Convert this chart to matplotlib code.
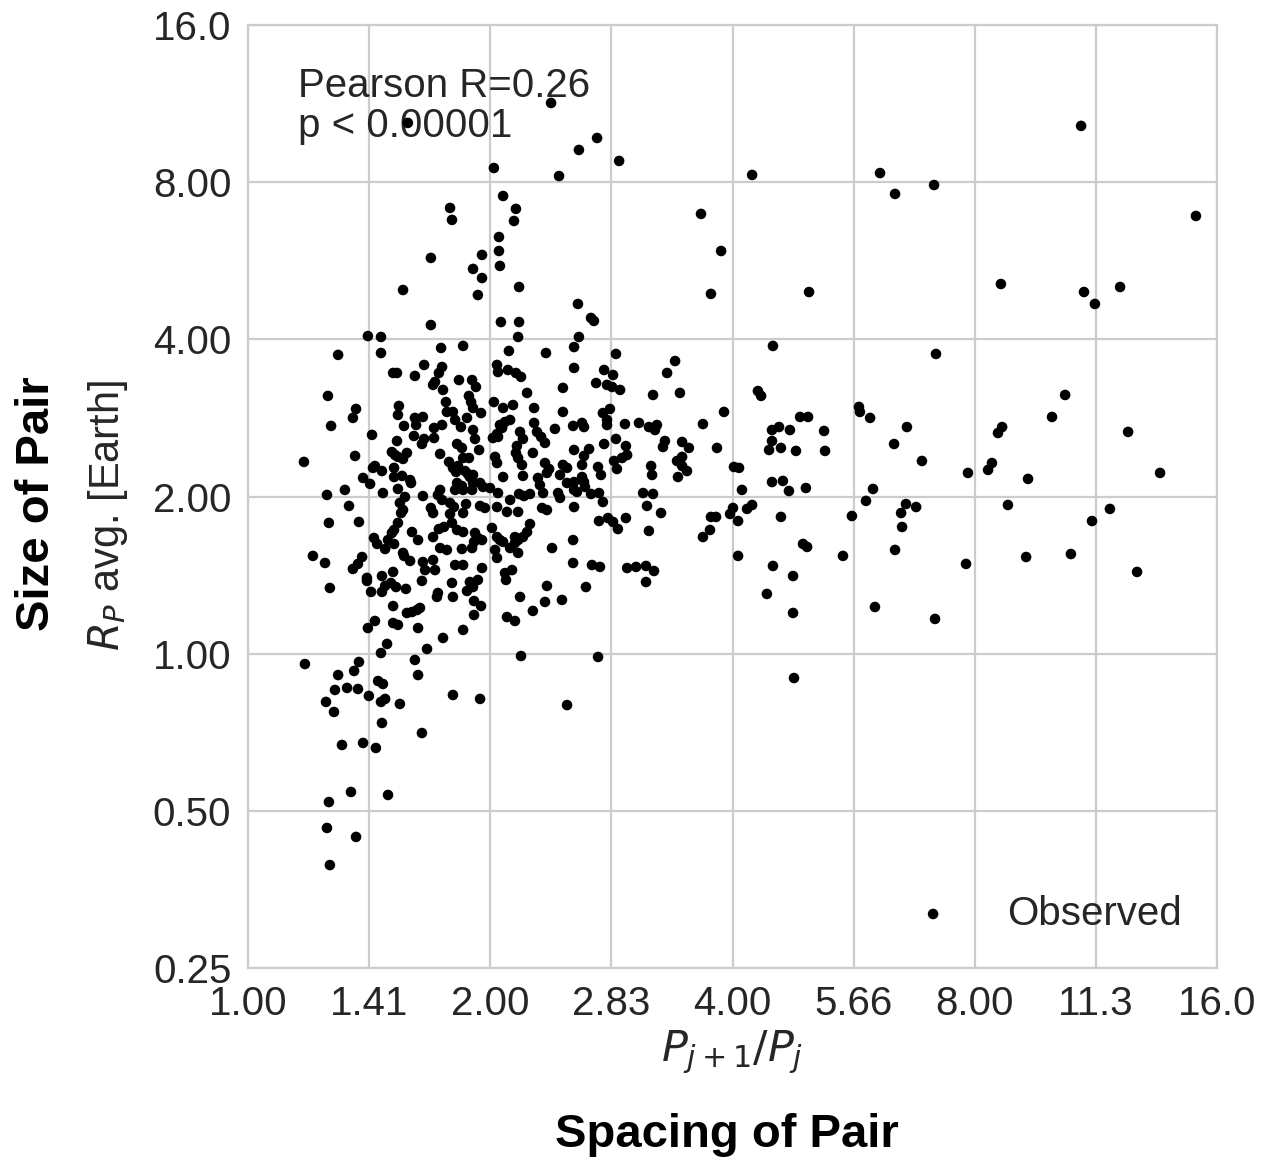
import numpy as np
import matplotlib
matplotlib.use("Agg")
import matplotlib.pyplot as plt
from matplotlib.ticker import FixedLocator, FixedFormatter, NullLocator

# ---- data: log2 of period ratio P_{j+1}/P_j and log2 of mean radius (Earth radii) ----
lr_a = [0.660, 0.640, 0.755, 0.755, 0.495, 0.549, 1.251, 1.015, 1.284, 1.053,
        0.834, 1.106, 0.842, 1.098, 1.036, 0.966, 1.036, 0.929, 1.040, 0.966,
        1.119, 0.949, 1.044, 1.119, 1.115, 1.366, 1.441, 1.532, 1.362, 1.416,
        1.428, 1.366]
lrad_a = [3.377, 2.314, 2.518, 2.091, 2.021, 2.015, 3.504, 3.090, 3.039, 2.912,
          2.836, 2.830, 2.760, 2.753, 2.651, 2.537, 2.562, 2.448, 2.467, 2.390,
          2.333, 2.282, 2.110, 2.110, 2.015, 3.205, 3.281, 3.135, 2.225, 2.136,
          2.117, 2.015]

lr_b = [2.081, 2.609, 2.671, 2.832, 1.870, 1.953, 1.911, 2.316, 2.167, 2.840,
        2.105, 2.118, 1.965, 2.522, 2.526, 2.568, 1.878, 2.279, 2.312, 2.163,
        2.192, 2.237, 2.378, 2.720, 1.936, 2.163, 2.151, 2.200, 2.262, 2.382,
        2.667, 2.782, 2.006, 2.027, 2.163, 2.208, 2.039, 2.233, 2.303, 2.580,
        2.551, 2.716, 2.758, 2.696, 2.700, 2.002, 1.990, 2.060, 2.081, 1.911,
        1.932, 1.907, 1.878, 2.023, 2.200, 2.493, 2.291, 2.308, 2.023, 2.456,
        2.671, 2.167, 2.250, 2.142, 2.588, 2.836, 2.250, 2.254]
lrad_b = [3.046, 3.058, 2.925, 2.982, 2.798, 2.562, 2.289, 2.301, 1.958, 1.907,
          1.671, 1.640, 1.538, 1.570, 1.538, 1.500, 1.461, 1.506, 1.506, 1.423,
          1.442, 1.423, 1.417, 1.442, 1.309, 1.353, 1.296, 1.309, 1.290, 1.290,
          1.334, 1.226, 1.188, 1.182, 1.092, 1.099, 1.042, 1.035, 1.054, 1.048,
          0.972, 0.952, 0.933, 0.895, 0.806, 0.927, 0.889, 0.921, 0.946, 0.870,
          0.870, 0.787, 0.742, 0.844, 0.870, 0.876, 0.698, 0.679, 0.622, 0.622,
          0.660, 0.558, 0.494, 0.380, 0.297, 0.221, 0.259, -0.155]

lr_c = [3.439, 3.913, 3.108, 3.451, 3.496, 3.600, 3.373, 3.319, 3.113, 3.096,
        3.633, 3.071, 3.055, 2.972, 3.220, 3.765, 3.137, 3.558, 3.484, 2.964,
        3.212, 3.397, 3.670]
lrad_c = [3.358, 2.785, 2.352, 2.301, 2.225, 2.333, 1.646, 1.506, 1.442, 1.404,
          1.411, 1.213, 1.169, 1.150, 1.112, 1.150, 0.946, 0.921, 0.844, 0.571,
          0.615, 0.634, 0.520]

lr_d = [1.346, 1.519, 1.346, 1.763, 1.730, 1.470, 1.507, 1.437, 1.482, 1.503,
        1.536, 1.672, 1.783, 1.494, 1.465, 1.482, 1.482, 1.342, 1.379, 1.387,
        1.556, 1.614, 1.655, 1.680, 1.688, 1.519, 1.470, 1.560, 1.721, 1.713,
        1.792, 1.820, 1.346, 1.408, 1.387, 1.565, 1.544, 1.511, 1.523, 1.771,
        1.792, 1.792, 1.812, 1.775, 1.664, 1.668, 1.445, 1.457, 1.379, 1.379,
        1.387, 1.391, 1.346, 1.346, 1.358, 1.416, 1.449, 1.465, 1.631, 1.672,
        1.346, 1.647, 1.705, 1.560, 1.449, 1.486, 1.507, 1.527, 1.655, 1.342,
        1.342, 1.420, 1.453, 1.565, 1.602, 1.643, 1.676,
        1.395, 1.643, 1.445, 1.317]
lrad_d = [1.951, 1.907, 1.818, 1.862, 1.786, 1.805, 1.773, 1.722, 1.710, 1.697,
          1.678, 1.646, 1.659, 1.557, 1.531, 1.487, 1.455, 1.449, 1.468, 1.442,
          1.461, 1.468, 1.442, 1.423, 1.455, 1.366, 1.334, 1.321, 1.353, 1.315,
          1.347, 1.309, 1.296, 1.302, 1.258, 1.264, 1.245, 1.226, 1.175, 1.226,
          1.252, 1.194, 1.162, 1.124, 1.194, 1.137, 1.188, 1.137, 1.201, 1.124,
          1.092, 1.061, 1.092, 1.042, 1.029, 1.016, 1.022, 0.965, 1.022, 1.016,
          0.933, 0.940, 0.895, 0.863, 0.844, 0.863, 0.838, 0.793, 0.781, 0.723,
          0.577, 0.564, 0.552, 0.545, 0.552, 0.558, 0.526,
          0.424, 0.456, -0.021, -0.327]

lr_f = [0.842, 0.916, 0.949, 0.784, 0.780, 0.846, 0.904, 0.929, 0.933, 0.962,
        0.933, 0.888, 0.805, 0.739, 1.065, 1.123, 1.234, 1.226, 1.296, 1.176,
        1.069, 1.102, 1.127, 0.846, 0.958]
lrad_f = [0.450, 0.456, 0.469, 0.386, 0.361, 0.361, 0.399, 0.424, 0.335, 0.303,
          0.246, 0.151, 0.100, 0.030, 0.469, 0.361, 0.431, 0.329, 0.342, 0.272,
          0.233, 0.208, -0.015, -0.263, -0.288]

lr_g = [0.338, 0.491, 0.508, 0.553, 0.566, 0.590, 0.611, 0.652, 0.718, 0.599,
        0.656, 0.677, 0.698, 0.710, 0.524, 0.495, 0.599, 0.619, 0.702, 0.574,
        0.549, 0.235, 0.458, 0.689, 0.438, 0.372, 0.702, 0.537, 0.557, 0.359,
        0.409, 0.454, 0.499, 0.322, 0.549, 0.566, 0.627, 0.355, 0.553, 0.718,
        0.388, 0.475, 0.528, 0.425, 0.334, 0.578, 0.326, 0.446, 0.338]
lrad_g = [0.418, 0.463, 0.393, 0.393, 0.431, 0.450, 0.424, 0.412, 0.463, 0.303,
          0.259, 0.265, 0.278, 0.291, 0.208, 0.163, 0.195, 0.183, 0.163, 0.062,
          0.004, -0.066, -0.053, -0.040, -0.110, -0.136, -0.136, -0.174, -0.193, -0.231,
          -0.218, -0.225, -0.269, -0.307, -0.307, -0.288, -0.320, -0.371, -0.441, -0.505,
          -0.581, -0.568, -0.600, -0.880, -0.944, -0.899, -1.109, -1.166, -1.345]

lr_h = [0.372, 0.549, 0.727, 0.599, 0.615, 0.689, 0.330, 0.446, 0.433, 0.623,
        0.619, 0.689, 0.694, 0.722, 0.644, 0.343, 0.512, 0.685, 0.727, 0.718,
        0.615, 0.594, 0.607, 0.619, 0.656, 0.640, 0.442, 0.231, 0.524, 0.516,
        0.553, 0.603, 0.603, 0.636, 0.669, 0.673, 0.475, 0.504, 0.400, 0.326,
        0.557, 0.619, 0.648, 0.722, 0.627, 0.640, 0.632, 0.417, 0.619, 0.603,
        0.594, 0.458, 0.334, 0.677, 0.702, 0.520, 0.533, 0.578, 0.603, 0.566,
        0.640, 0.644, 0.669, 0.268, 0.318, 0.471, 0.454, 0.433, 0.722, 0.731,
        0.491, 0.553, 0.599]
lrad_h = [1.901, 1.913, 1.837, 1.786, 1.786, 1.767, 1.640, 1.557, 1.500, 1.576,
          1.519, 1.500, 1.455, 1.506, 1.449, 1.449, 1.392, 1.385, 1.366, 1.334,
          1.353, 1.283, 1.264, 1.252, 1.277, 1.239, 1.258, 1.220, 1.194, 1.182,
          1.162, 1.182, 1.124, 1.131, 1.105, 1.086, 1.118, 1.080, 1.042, 1.010,
          1.022, 1.048, 0.997, 1.003, 0.959, 0.914, 0.895, 0.940, 0.832, 0.787,
          0.768, 0.838, 0.832, 0.774, 0.723, 0.736, 0.698, 0.723, 0.698, 0.666,
          0.641, 0.622, 0.590, 0.622, 0.577, 0.615, 0.571, 0.539, 0.583, 0.532,
          0.482, 0.494, 0.520]

lr_i = [0.797, 0.888, 1.077, 1.230, 0.801, 0.788, 0.772, 0.764, 0.871, 0.925,
        0.941, 0.805, 1.028, 1.032, 1.073, 1.106, 1.127, 1.152, 1.300, 0.912,
        0.921, 0.929, 0.962, 0.817, 0.821, 0.846, 0.855, 0.904, 0.879, 0.768,
        0.801, 0.768, 0.929, 0.937, 0.954, 0.863, 0.883, 0.793, 0.830, 1.015,
        1.053, 1.094, 1.181, 1.300, 1.082, 1.061, 1.040, 1.049, 1.181, 1.267,
        1.028, 1.011, 1.032, 1.123, 1.135, 1.193, 1.210, 1.226, 1.110, 1.106,
        1.115, 1.131, 1.020, 1.028, 1.176, 1.226, 1.243, 1.234, 1.300, 1.317,
        0.888, 0.912, 0.867, 0.896, 0.908, 0.916, 0.846, 0.859, 0.929, 1.053]
lrad_i = [1.945, 1.958, 1.926, 1.913, 1.824, 1.786, 1.729, 1.710, 1.741, 1.741,
          1.697, 1.678, 1.837, 1.792, 1.805, 1.786, 1.761, 1.659, 1.691, 1.640,
          1.601, 1.563, 1.531, 1.601, 1.538, 1.538, 1.487, 1.500, 1.442, 1.436,
          1.455, 1.372, 1.423, 1.366, 1.296, 1.334, 1.309, 1.271, 1.220, 1.601,
          1.563, 1.582, 1.563, 1.538, 1.487, 1.474, 1.455, 1.436, 1.468, 1.430,
          1.398, 1.372, 1.379, 1.411, 1.366, 1.411, 1.379, 1.341, 1.321, 1.277,
          1.245, 1.201, 1.252, 1.213, 1.277, 1.213, 1.175, 1.150, 1.201, 1.182,
          1.245, 1.245, 1.194, 1.162, 1.143, 1.124, 1.182, 1.156, 1.137, 1.124]

lr_j = [1.135, 1.197, 1.205, 1.288, 1.317, 0.863, 0.883, 0.888, 0.855, 0.929,
        0.958, 0.970, 0.999, 0.925, 0.793, 0.784, 0.801, 1.032, 1.119, 1.139,
        1.164, 1.082, 1.218, 1.280, 1.288, 0.834, 0.850, 0.900, 0.755, 0.764,
        0.958, 0.978, 1.028, 1.069, 1.115, 1.214, 1.234, 0.834, 0.842, 0.888,
        0.809, 0.788, 0.863, 0.888, 0.764, 0.937, 0.949, 0.966, 0.933, 1.007,
        1.028, 1.040, 1.053, 1.102, 1.115, 1.135, 1.152, 1.164, 1.082, 1.102,
        0.793, 0.821, 0.883, 0.925, 0.764, 1.020, 1.028, 1.115, 1.255, 1.090,
        0.855, 0.888, 0.966, 0.772, 1.061]
lrad_j = [1.131, 1.118, 1.073, 1.137, 1.086, 1.086, 1.067, 1.042, 1.042, 1.086,
          1.086, 1.061, 1.054, 1.042, 1.042, 1.010, 0.978, 1.022, 1.016, 1.003,
          1.016, 0.978, 1.022, 1.022, 0.991, 0.959, 0.933, 0.952, 0.927, 0.895,
          0.940, 0.927, 0.933, 0.902, 0.902, 0.927, 0.914, 0.889, 0.832, 0.895,
          0.806, 0.793, 0.787, 0.774, 0.742, 0.768, 0.736, 0.723, 0.711, 0.800,
          0.742, 0.723, 0.711, 0.742, 0.723, 0.742, 0.774, 0.825, 0.672, 0.704,
          0.672, 0.660, 0.666, 0.672, 0.596, 0.660, 0.609, 0.641, 0.672, 0.532,
          0.564, 0.564, 0.545, 0.532, 0.513]

x_ticks_labels = ["1.00", "1.41", "2.00", "2.83", "4.00", "5.66", "8.00", "11.3", "16.0"]
y_ticks_labels = ["0.25", "0.50", "1.00", "2.00", "4.00", "8.00", "16.0"]
pearson_text = "Pearson R=0.26\np < 0.00001"

groups_x = [lr_a, lr_b, lr_c, lr_d, lr_f, lr_g, lr_h, lr_i, lr_j]
groups_y = [lrad_a, lrad_b, lrad_c, lrad_d, lrad_f, lrad_g, lrad_h, lrad_i, lrad_j]
for gx, gy in zip(groups_x, groups_y):
    assert len(gx) == len(gy), (len(gx), len(gy))

period_ratio = 2.0 ** np.concatenate([np.array(g) for g in groups_x])
radius = 2.0 ** np.concatenate([np.array(g) for g in groups_y])

# ---- figure ----
plt.rcParams['font.family'] = ['Liberation Sans', 'DejaVu Sans']
plt.rcParams['mathtext.fontset'] = 'dejavusans'

fig = plt.figure(figsize=(12.68, 11.62), dpi=100)
ax = fig.add_axes([248/1268, 1 - 968/1162, (1217-248)/1268, (968-25)/1162])

ax.scatter(period_ratio, radius, s=58, color='black', edgecolors='none',
           label='Observed', zorder=3)

ax.set_xscale('log', base=2)
ax.set_yscale('log', base=2)
ax.set_xlim(1, 16)
ax.set_ylim(0.25, 16)

xt = 2.0 ** (np.arange(len(x_ticks_labels)) / 2.0)
yt = 0.25 * 2.0 ** np.arange(len(y_ticks_labels))
ax.xaxis.set_major_locator(FixedLocator(xt))
ax.xaxis.set_major_formatter(FixedFormatter(x_ticks_labels))
ax.yaxis.set_major_locator(FixedLocator(yt))
ax.yaxis.set_major_formatter(FixedFormatter(y_ticks_labels))
ax.xaxis.set_minor_locator(NullLocator())
ax.yaxis.set_minor_locator(NullLocator())

ax.tick_params(axis='both', which='major', length=0, labelsize=29,
               colors='#262626', pad=12)
ax.grid(True, color='#cccccc', linewidth=1.6, zorder=0)
ax.set_axisbelow(True)
for sp in ax.spines.values():
    sp.set_color('#cccccc')
    sp.set_linewidth(1.6)

ax.text(0.052, 0.955, pearson_text, transform=ax.transAxes, ha='left', va='top',
        fontsize=29, color='#262626', linespacing=1.05, zorder=1)

leg = ax.legend(loc='lower right', frameon=False, fontsize=29, scatterpoints=1,
                handletextpad=0.83, borderaxespad=0.48, markerscale=1.0)
for t in leg.get_texts():
    t.set_color('#262626')

fig.text(37/1268, 1 - 504/1162, 'Size of Pair', rotation=90, ha='center', va='center',
         fontsize=34, fontweight='bold', color='black')
fig.text(108/1268, 1 - 515/1162, r'$R_P$ avg. [Earth]', rotation=90, ha='center',
         va='center', fontsize=30, color='#262626')
fig.text(732/1268, 1 - 1052/1162, r'$P_{j+1}/P_j$', ha='center', va='center',
         fontsize=31, color='#262626')
fig.text(727/1268, 1 - 1135/1162, 'Spacing of Pair', ha='center', va='center',
         fontsize=34, fontweight='bold', color='black')

fig.savefig('out.png', dpi=100)
